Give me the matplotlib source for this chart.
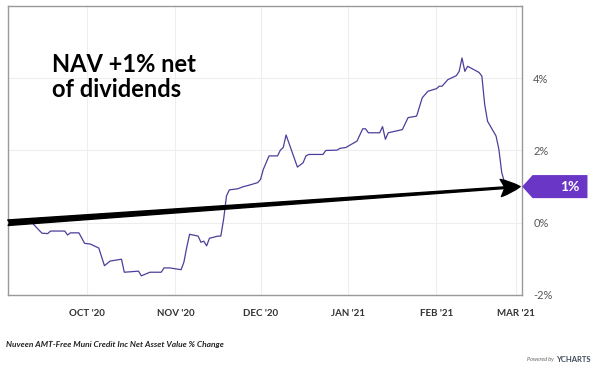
import pandas as pd
import matplotlib.pyplot as plt
import matplotlib.transforms as mtransforms
from matplotlib.patches import Polygon

plt.rcParams['font.family'] = ['Lato', 'DejaVu Sans']

# NAV % change
dates = ['2020-09-03', '2020-09-04', '2020-09-08', '2020-09-09', '2020-09-10', '2020-09-11',
         '2020-09-14', '2020-09-15', '2020-09-17', '2020-09-18', '2020-09-21', '2020-09-23',
         '2020-09-24', '2020-09-25', '2020-09-28', '2020-09-30', '2020-10-02', '2020-10-05',
         '2020-10-07', '2020-10-09', '2020-10-13', '2020-10-14', '2020-10-19', '2020-10-20',
         '2020-10-23', '2020-10-27', '2020-10-28', '2020-10-30', '2020-11-03', '2020-11-04',
         '2020-11-05', '2020-11-06', '2020-11-09', '2020-11-10', '2020-11-11', '2020-11-12',
         '2020-11-13', '2020-11-16', '2020-11-17', '2020-11-18', '2020-11-19', '2020-11-20',
         '2020-11-23', '2020-11-25', '2020-11-27', '2020-11-30', '2020-12-01', '2020-12-02',
         '2020-12-04', '2020-12-07', '2020-12-08', '2020-12-09', '2020-12-10', '2020-12-14',
         '2020-12-16', '2020-12-17', '2020-12-18', '2020-12-23', '2020-12-24', '2020-12-28',
         '2020-12-29', '2020-12-31', '2021-01-04', '2021-01-06', '2021-01-07', '2021-01-08',
         '2021-01-12', '2021-01-13', '2021-01-14', '2021-01-15', '2021-01-19', '2021-01-20',
         '2021-01-22', '2021-01-25', '2021-01-27', '2021-01-29', '2021-02-01', '2021-02-02',
         '2021-02-03', '2021-02-05', '2021-02-08', '2021-02-09', '2021-02-10', '2021-02-11',
         '2021-02-12', '2021-02-16', '2021-02-17', '2021-02-18', '2021-02-19', '2021-02-22',
         '2021-02-23', '2021-02-24', '2021-02-25']
values = [0.02, 0.06, 0.09, 0.04, 0.11, 0.04,
          -0.21, -0.29, -0.30, -0.23, -0.23, -0.23,
          -0.34, -0.28, -0.28, -0.57, -0.59, -0.70,
          -1.19, -1.06, -1.01, -1.37, -1.34, -1.47,
          -1.37, -1.37, -1.25, -1.25, -1.30, -1.09,
          -0.68, -0.32, -0.37, -0.54, -0.51, -0.64,
          -0.43, -0.37, -0.37, 0.10, 0.74, 0.91,
          0.94, 1.00, 1.04, 1.11, 1.20, 1.48,
          1.85, 1.85, 2.01, 2.08, 2.43, 1.54,
          1.66, 1.85, 1.89, 1.89, 2.00, 2.01,
          2.06, 2.08, 2.26, 2.60, 2.60, 2.49,
          2.49, 2.66, 2.31, 2.49, 2.56, 2.58,
          2.91, 2.95, 3.46, 3.64, 3.71, 3.78,
          3.78, 3.96, 4.07, 4.19, 4.56, 4.19,
          4.33, 4.16, 4.06, 3.27, 2.81, 2.40,
          2.03, 1.39, 1.11]

month_ticks = ['2020-10-01', '2020-11-01', '2020-12-01', '2021-01-01', '2021-02-01', '2021-03-01']
month_labels = ["OCT '20", "NOV '20", "DEC '20", "JAN '21", "FEB '21", "MAR '21"]
y_ticks = [-2, 0, 2, 4]

# net-of-dividends arrow: start and end
arrow_start = ('2020-09-03', 0.0)
arrow_end = ('2021-03-02 12:00', 1.0)
net_change = 1

x = pd.to_datetime(dates)

fig = plt.figure(figsize=(6, 3.72), dpi=100)
ax = fig.add_axes([0.0133, 0.207, 0.857, 0.777])

ax.plot(x, values, color='#4f3d9a', linewidth=0.9, zorder=3)

ax.set_xlim(pd.Timestamp('2020-09-03'), pd.Timestamp('2021-03-03 05:00'))
ax.set_ylim(-2, 6)

ax.set_xticks(pd.to_datetime(month_ticks))
ax.set_xticklabels(month_labels, fontsize=7, fontweight='bold', color='#333333')
ax.set_yticks(y_ticks)
ax.set_yticklabels([f'{v}%' for v in y_ticks], fontsize=8, color='#555555')
ax.yaxis.tick_right()
ax.tick_params(axis='both', length=0)
ax.tick_params(axis='x', pad=10)
ax.tick_params(axis='y', pad=8)
ax.grid(True, color='#eeeeee', linewidth=0.8)
for s in ax.spines.values():
    s.set_color('#999999')
    s.set_linewidth(1)

# big black arrow (tapered)
ax.annotate('', xy=(pd.Timestamp(arrow_end[0]), arrow_end[1]),
            xytext=(pd.Timestamp(arrow_start[0]), arrow_start[1]),
            arrowprops=dict(arrowstyle='fancy,head_length=0.7,head_width=0.62,tail_width=0.2',
                            color='black', mutation_scale=20, shrinkA=0, shrinkB=0),
            zorder=4, annotation_clip=False)

# purple value tag on the right edge
bt = mtransforms.blended_transform_factory(ax.transAxes, ax.transData)
tag_tr = mtransforms.Affine2D().scale(fig.dpi / 72) + mtransforms.ScaledTranslation(1.0, net_change, bt)
tag = Polygon([(0, 0), (7.5, 8.3), (47, 8.3), (47, -8.3), (7.5, -8.3)], closed=True,
              facecolor='#6936c6', edgecolor='none', transform=tag_tr, clip_on=False, zorder=5)
fig.add_artist(tag)
fig.text(41.5, 0, f'{net_change}%', transform=tag_tr, ha='right', va='center',
         fontsize=10, fontweight='bold', color='white', zorder=6)

fig.text(0.087, 0.857, 'NAV +1% net\nof dividends', fontsize=17, fontweight='bold',
         color='black', ha='left', va='top', linespacing=1.12)

fig.text(0.01, 1 - 345 / 372, 'Nuveen AMT-Free Muni Credit Inc Net Asset Value % Change',
         fontsize=6, fontstyle='italic', fontweight='bold', color='#222222', va='center')
fig.text(0.923, 1 - 360 / 372, 'Powered by', fontsize=4, fontstyle='italic',
         color='#666666', ha='right', va='center')
fig.text(0.927, 1 - 360 / 372, 'YCHARTS', fontsize=5.5, fontweight='bold',
         color='#3d4a5a', ha='left', va='center')

plt.savefig('out.png', dpi=100)
